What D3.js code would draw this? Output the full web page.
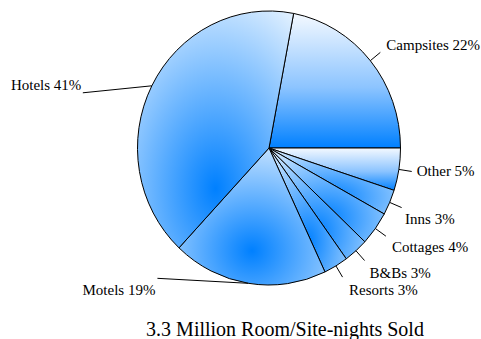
<!DOCTYPE html>
<html>
<head>
<meta charset="utf-8">
<script src="https://cdn.jsdelivr.net/npm/d3@7"></script>
<style>
  html, body { margin: 0; padding: 0; background: #ffffff; }
  svg { display: block; }
  text { font-family: "Liberation Serif", "Times New Roman", serif; fill: #000; }
</style>
</head>
<body>
<svg id="chart" width="481" height="339"></svg>
<script>
// Share of room/site-nights by accommodation type (percent)
const categories = ["Campsites", "Other", "Inns", "Cottages", "B&Bs", "Resorts", "Motels", "Hotels"];
const shares = [22, 5, 3, 4, 3, 3, 19, 41];
const sliceLabels = ["Campsites 22%", "Other 5%", "Inns 3%", "Cottages 4%", "B&Bs 3%", "Resorts 3%", "Motels 19%", "Hotels 41%"];
const titleText = "3.3 Million Room/Site-nights Sold";

// Slice fill style: vertical wash or radial glow
const fillKind = ["linear", "linear", "radial", "radial", "radial", "radial", "radial", "radial"];

const W = 481, H = 339;
const cx = 269, cy = 148;        // pie centre
const rx = 131.5, ry = 137;      // pie drawn slightly taller than wide
const R = 100;                   // unit radius before x/y scaling

const svg = d3.select("#chart");
const defs = svg.append("defs");

// Gradients
categories.forEach((c, i) => {
  const id = "g" + i;
  if (fillKind[i] === "linear") {
    const g = defs.append("linearGradient").attr("id", id)
      .attr("x1", 0).attr("y1", 0).attr("x2", 0).attr("y2", 1);
    g.append("stop").attr("offset", 0).attr("stop-color", "#f4f9ff");
    g.append("stop").attr("offset", 0.55).attr("stop-color", "#8cc4ff");
    g.append("stop").attr("offset", 1).attr("stop-color", "#0080ff");
  } else {
    const g = defs.append("radialGradient").attr("id", id)
      .attr("cx", "50%").attr("cy", "75%").attr("fx", "50%").attr("fy", "75%").attr("r", "100%");
    g.append("stop").attr("offset", 0).attr("stop-color", "#0080ff");
    g.append("stop").attr("offset", 1).attr("stop-color", "#ffffff");
  }
});

// Campsites ends at 3 o'clock; everything else follows clockwise
const total = d3.sum(shares);
const start = Math.PI / 2 - 2 * Math.PI * shares[0] / total;
const pie = d3.pie().sort(null).value(d => d).startAngle(start).endAngle(start + 2 * Math.PI);
const arcs = pie(shares);
const arc = d3.arc().innerRadius(0).outerRadius(R);

const pieG = svg.append("g")
  .attr("transform", `translate(${cx},${cy}) scale(${rx / R},${ry / R})`);

pieG.selectAll("path.slice")
  .data(arcs)
  .join("path")
  .attr("class", "slice")
  .attr("d", arc)
  .attr("fill", (d, i) => `url(#g${i})`)
  .attr("stroke", "#000")
  .attr("stroke-width", 1)
  .attr("vector-effect", "non-scaling-stroke");

// Leader lines and labels
const ext = 13;
// leader end: radial extension, or fixed offset for the long left-hand leaders
const leaderOffset = { "Motels": [-91, -5], "Hotels": [-69, 7] };
// label anchor offsets from leader end
const textOffset = {
  "Campsites": [6, -2.5, "start"],
  "Other": [5, 4.5, "start"],
  "Inns": [3.5, 16, "start"],
  "Cottages": [6, 15.5, "start"],
  "B&Bs": [5, 17, "start"],
  "Resorts": [6.5, 18, "start"],
  "Motels": [-2, 17, "end"],
  "Hotels": [-1.5, -3, "end"]
};

const labelG = svg.append("g");
arcs.forEach((d, i) => {
  const c = categories[i];
  const a = (d.startAngle + d.endAngle) / 2;
  const sx = cx + rx * Math.sin(a), sy = cy - ry * Math.cos(a);
  let ex, ey;
  if (leaderOffset[c]) {
    ex = sx + leaderOffset[c][0]; ey = sy + leaderOffset[c][1];
  } else {
    ex = sx + ext * Math.sin(a); ey = sy - ext * Math.cos(a);
  }
  labelG.append("line")
    .attr("x1", sx).attr("y1", sy).attr("x2", ex).attr("y2", ey)
    .attr("stroke", "#000").attr("stroke-width", 1);
  const t = textOffset[c];
  labelG.append("text")
    .attr("x", ex + t[0]).attr("y", ey + t[1])
    .attr("text-anchor", t[2])
    .attr("font-size", "15px")
    .text(sliceLabels[i]);
});

svg.append("text")
  .attr("x", 285).attr("y", 336)
  .attr("text-anchor", "middle")
  .attr("font-size", "20px")
  .text(titleText);
</script>
</body>
</html>
